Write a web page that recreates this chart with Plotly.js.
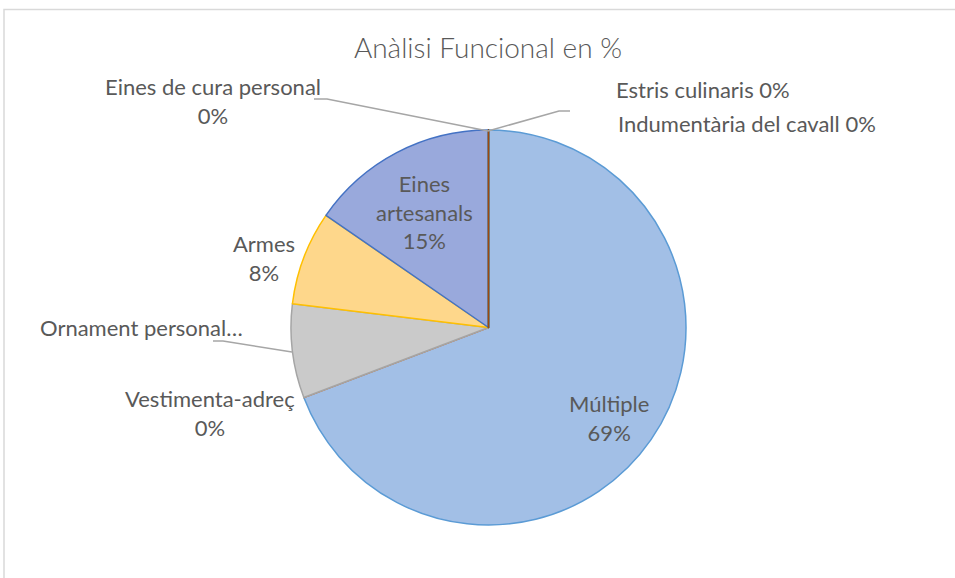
<!DOCTYPE html>
<html>
<head>
<meta charset="utf-8">
<script src="https://cdn.plot.ly/plotly-3.0.1.min.js"></script>
<style>html,body{margin:0;padding:0;background:#fff;}#chart{width:955px;height:578px;}</style>
</head>
<body>
<div id="chart"></div>
<script>
// Data
const categories = ["Múltiple","Vestimenta-adreç","Ornament personal…","Armes","Eines artesanals","Eines de cura personal","Estris culinaris","Indumentària del cavall"];
const counts = [9, 0, 1, 1, 2, 0, 0, 0];
const fillColors = ["#a2bfe6","#f5b88f","#cacaca","#fed78b","#99a9dc","#9ccb85","#7f93b8","#c47a50"];
const edgeColors = ["#5b9bd5","#ed7d31","#a5a5a5","#ffc000","#4472c4","#70ad47","#264478","#9e480e"];
const chartTitle = "Anàlisi Funcional en %";

const W = 955, H = 578;
const total = counts.reduce((a,b)=>a+b,0);
const pct = counts.map(v => Math.round(v/total*100) + "%");
const px = x => x / W;
const py = y => 1 - y / H;

const FONT = "Lato, 'Open Sans', sans-serif";
const TXT = "#595959";
const LBL = 22;

// label layout: [category index, text builder, x, y, xanchor]
const labelDefs = [
  [0, (c,p)=>c+"<br>"+p, 609, 418, "center"],
  [1, (c,p)=>c+"<br>"+p, 210, 413, "center"],
  [2, (c,p)=>c, 141, 327, "center"],
  [3, (c,p)=>c+"<br>"+p, 264, 258, "center"],
  [4, (c,p)=>"Eines<br>artesanals<br>"+p, 424, 212, "center"],
  [5, (c,p)=>c+"<br>"+p, 213, 101, "center"],
  [6, (c,p)=>c+" "+p, 614, 89, "left"],
  [7, (c,p)=>c+" "+p, 616, 123, "left"]
];

const annotations = labelDefs.map(d => ({
  text: d[1](categories[d[0]], pct[d[0]]),
  x: px(d[2]), y: py(d[3]), xref: "paper", yref: "paper",
  xanchor: d[4], yanchor: "middle", showarrow: false,
  font: {family: FONT, size: LBL, color: TXT}, align: "center"
}));

const leader = pts => "M " + pts.map(p => px(p[0]) + " " + py(p[1])).join(" L ");
const shapes = [
  {type:"path", xref:"paper", yref:"paper", path: leader([[4,600],[4,9.5],[960,9.5]]), line:{color:"#d9d9d9", width:1.5}},
  {type:"path", xref:"paper", yref:"paper", path: leader([[314,99],[327,99],[488,131]]), line:{color:"#a6a6a6", width:1.5}},
  {type:"path", xref:"paper", yref:"paper", path: leader([[488,131],[559,111],[570,111]]), line:{color:"#a6a6a6", width:1.5}},
  {type:"path", xref:"paper", yref:"paper", path: leader([[213,341],[223,341],[292,352]]), line:{color:"#a6a6a6", width:1.5}}
];

const trace = {
  type: "pie",
  labels: categories,
  values: counts,
  sort: false,
  direction: "clockwise",
  rotation: 0,
  textinfo: "none",
  hoverinfo: "label+percent",
  showlegend: false,
  marker: {colors: fillColors, line: {color: edgeColors, width: 1.5}},
  domain: {x: [px(291), px(686)], y: [py(525), py(130)]}
};

const layout = {
  width: W, height: H,
  margin: {l:0, r:0, t:0, b:0},
  paper_bgcolor: "#ffffff",
  title: {text: chartTitle, x: px(488), xanchor: "center", y: py(48), yanchor: "middle",
          font: {family: FONT, size: 28, color: TXT, weight: 300}},
  annotations: annotations,
  shapes: shapes,
  showlegend: false
};

Plotly.newPlot("chart", [trace], layout, {staticPlot: true});
</script>
</body>
</html>
